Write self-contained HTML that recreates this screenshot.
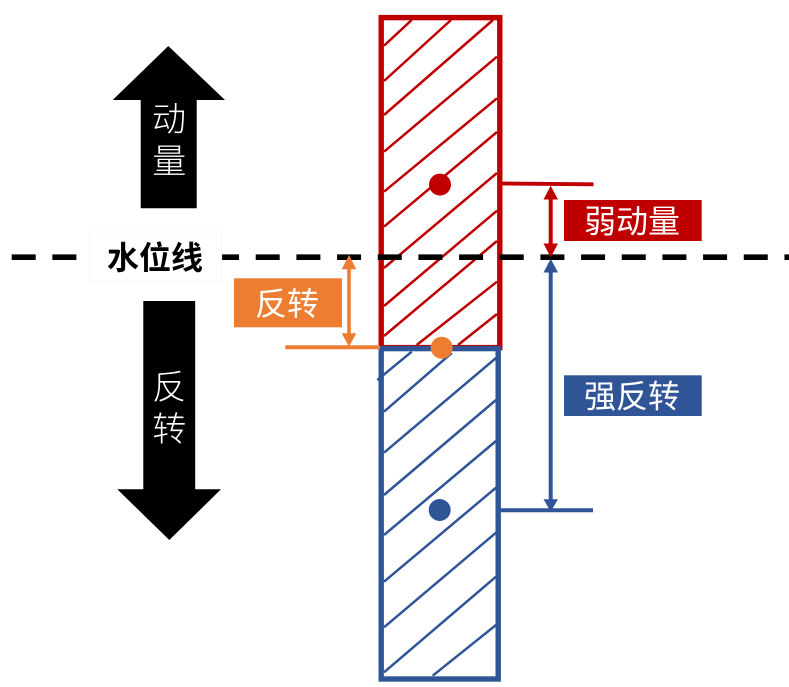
<!DOCTYPE html>
<html lang="zh">
<head>
<meta charset="utf-8">
<title>水位线</title>
<style>
html,body{margin:0;padding:0;background:#fff;width:789px;height:687px;overflow:hidden}
svg{display:block}
text{font-family:"Liberation Sans","Noto Sans CJK SC",sans-serif;text-anchor:middle;dominant-baseline:central}
</style>
</head>
<body>
<svg width="789" height="687" viewBox="0 0 789 687" xmlns="http://www.w3.org/2000/svg">
<rect width="789" height="687" fill="#fff"/>

<!-- Red hatching -->
<g stroke="#c00000" stroke-width="2.5" fill="none">
<line x1="384" y1="45.7" x2="411.7" y2="20"/>
<line x1="384" y1="81" x2="451" y2="20"/>
<line x1="384" y1="115" x2="493" y2="20"/>
<line x1="384" y1="151.7" x2="497" y2="56.7"/>
<line x1="384" y1="191.7" x2="497" y2="98.3"/>
<line x1="384" y1="226.7" x2="497" y2="132"/>
<line x1="384" y1="268" x2="497" y2="173"/>
<line x1="384" y1="306" x2="497" y2="210.7"/>
<line x1="384" y1="336" x2="497" y2="241"/>
<line x1="416.7" y1="345" x2="497" y2="281.7"/>
<line x1="458" y1="345" x2="497" y2="314"/>
</g>
<rect x="381.2" y="17.6" width="118.6" height="330" fill="none" stroke="#c00000" stroke-width="5.4"/>

<!-- Blue hatching -->
<g stroke="#2f5597" stroke-width="2.5" fill="none">
<line x1="377.3" y1="380" x2="411.7" y2="351.7"/>
<line x1="384" y1="411.7" x2="451.7" y2="353"/>
<line x1="384" y1="452.7" x2="496" y2="358"/>
<line x1="384" y1="495" x2="496" y2="400"/>
<line x1="384" y1="535" x2="496" y2="441"/>
<line x1="384" y1="581.7" x2="496" y2="487.7"/>
<line x1="384" y1="627.3" x2="496" y2="532.7"/>
<line x1="384" y1="672.3" x2="496" y2="576.7"/>
<line x1="432.7" y1="675.7" x2="496" y2="625"/>
</g>
<rect x="381.2" y="348.6" width="117" height="330.4" fill="none" stroke="#2f5597" stroke-width="5.4"/>

<!-- Dashed water line -->
<line x1="11.7" y1="257.2" x2="789" y2="257.2" stroke="#000" stroke-width="5.6" stroke-dasharray="24 16.67"/>

<!-- Dots -->
<circle cx="440" cy="184.6" r="11" fill="#c00000"/>
<circle cx="441.7" cy="347.7" r="11" fill="#ed7d31"/>
<circle cx="439.7" cy="510" r="11" fill="#2f5597"/>

<!-- Big arrows -->
<polygon points="168.3,46 225,100 196.7,100 196.7,208.3 140.7,208.3 140.7,100 112.7,100" fill="#000"/>
<polygon points="143.3,301 195.2,301 195.2,489.3 221,489.3 169.3,540 117.3,489.3 143.3,489.3" fill="#000"/>
<g fill="#fff" font-size="34" font-weight="300">
<text x="169" y="120">动</text>
<text x="169.3" y="162">量</text>
<text x="169.3" y="388">反</text>
<text x="169.3" y="430">转</text>
</g>

<!-- Water-level label -->
<rect x="90" y="232" width="131.7" height="49.7" fill="#fff" stroke="#f4f4f4" stroke-width="0.8"/>
<text x="155" y="258" font-size="32" font-weight="700" fill="#000">水位线</text>

<!-- Red measure -->
<line x1="500" y1="183.5" x2="593.5" y2="184.3" stroke="#c00000" stroke-width="3.8"/>
<line x1="550.7" y1="195" x2="550.7" y2="248" stroke="#c00000" stroke-width="4"/>
<polygon points="550.7,185.7 558,199.5 543.5,199.5" fill="#c00000"/>
<polygon points="550.7,257.4 558,243.5 543.5,243.5" fill="#c00000"/>

<!-- Blue measure -->
<line x1="500" y1="510.3" x2="593" y2="510.3" stroke="#2f5597" stroke-width="4"/>
<line x1="550.7" y1="268" x2="550.7" y2="502" stroke="#2f5597" stroke-width="4"/>
<polygon points="550.7,258.8 558,272.5 543.5,272.5" fill="#2f5597"/>
<polygon points="550.7,511.7 558,499.3 543.5,499.3" fill="#2f5597"/>

<!-- Orange measure -->
<line x1="285.3" y1="347.3" x2="380" y2="347.3" stroke="#ed7d31" stroke-width="4"/>
<line x1="349" y1="265" x2="349" y2="337" stroke="#ed7d31" stroke-width="3.6"/>
<polygon points="349,255 356.3,269.3 341.7,269.3" fill="#ed7d31"/>
<polygon points="349,346.7 356.3,333.3 341.7,333.3" fill="#ed7d31"/>

<!-- Labels -->
<rect x="564" y="200" width="137.7" height="41" fill="#c00000"/>
<text x="632" y="221.5" font-size="32" font-weight="400" fill="#fff">弱动量</text>
<rect x="564" y="375.3" width="137.7" height="40.7" fill="#2f5597"/>
<text x="632" y="396.5" font-size="32" font-weight="400" fill="#fff">强反转</text>
<rect x="234" y="278.3" width="108" height="49" fill="#ed7d31"/>
<text x="287" y="304" font-size="32" font-weight="400" fill="#fff">反转</text>
</svg>
</body>
</html>
